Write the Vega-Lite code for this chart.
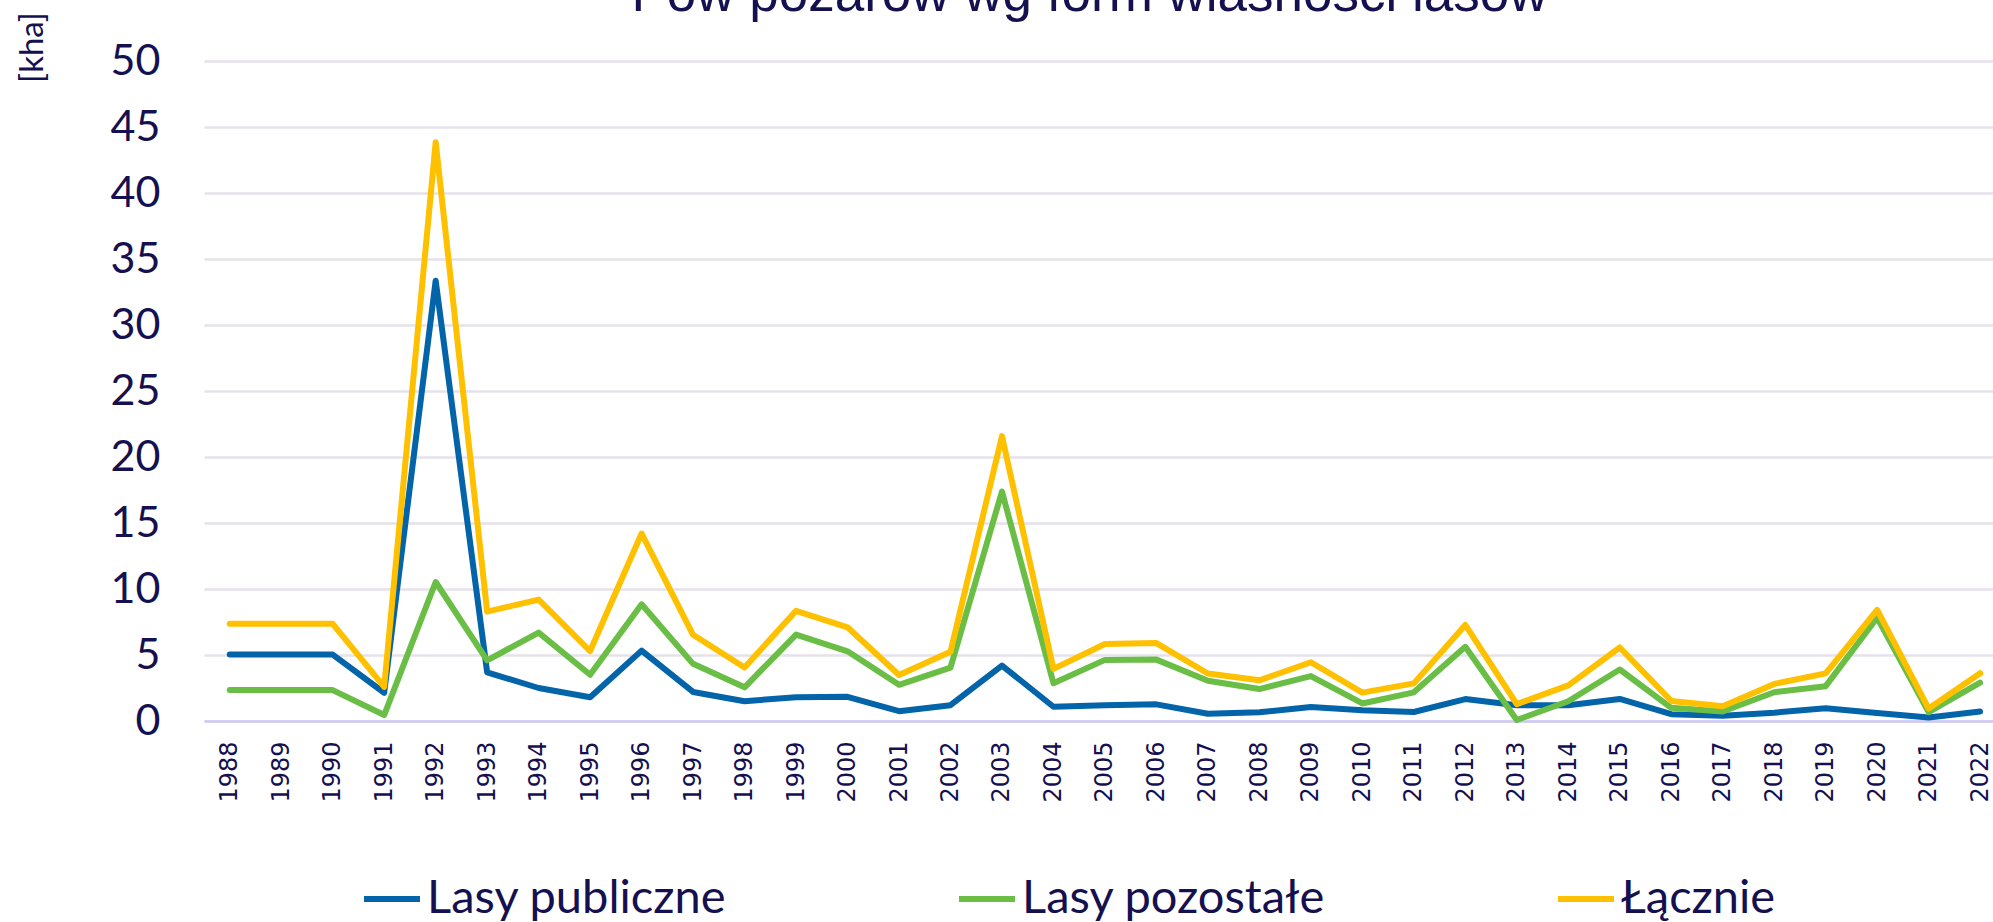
{
  "$schema": "https://vega.github.io/schema/vega-lite/v6.json",
  "autosize": {"type": "none"},
  "width": 1789,
  "height": 660,
  "padding": {"left": 204, "top": 61, "right": 0, "bottom": 201},
  "background": "white",
  "title": {
    "text": "Pow pożarów wg form własności lasów",
    "font": "Liberation Sans",
    "fontSize": 53,
    "fontWeight": "normal",
    "color": "#15104F",
    "anchor": "middle",
    "frame": "group",
    "baseline": "alphabetic",
    "offset": 5,
    "dx": -9,
    "dy": 57
  },
  "data": {
    "values": [
      {"rok": 1988, "Lasy publiczne": 5.03, "Lasy pozostałe": 2.34, "Łącznie": 7.36},
      {"rok": 1989, "Lasy publiczne": 5.03, "Lasy pozostałe": 2.34, "Łącznie": 7.36},
      {"rok": 1990, "Lasy publiczne": 5.03, "Lasy pozostałe": 2.34, "Łącznie": 7.36},
      {"rok": 1991, "Lasy publiczne": 2.14, "Lasy pozostałe": 0.45, "Łącznie": 2.59},
      {"rok": 1992, "Lasy publiczne": 33.36, "Lasy pozostałe": 10.53, "Łącznie": 43.85},
      {"rok": 1993, "Lasy publiczne": 3.69, "Lasy pozostałe": 4.6, "Łącznie": 8.29},
      {"rok": 1994, "Lasy publiczne": 2.5, "Lasy pozostałe": 6.7, "Łącznie": 9.2},
      {"rok": 1995, "Lasy publiczne": 1.8, "Lasy pozostałe": 3.5, "Łącznie": 5.3},
      {"rok": 1996, "Lasy publiczne": 5.33, "Lasy pozostałe": 8.84, "Łącznie": 14.2},
      {"rok": 1997, "Lasy publiczne": 2.2, "Lasy pozostałe": 4.33, "Łącznie": 6.53},
      {"rok": 1998, "Lasy publiczne": 1.5, "Lasy pozostałe": 2.55, "Łącznie": 4.05},
      {"rok": 1999, "Lasy publiczne": 1.8, "Lasy pozostałe": 6.55, "Łącznie": 8.35},
      {"rok": 2000, "Lasy publiczne": 1.83, "Lasy pozostałe": 5.28, "Łącznie": 7.1},
      {"rok": 2001, "Lasy publiczne": 0.74, "Lasy pozostałe": 2.74, "Łącznie": 3.48},
      {"rok": 2002, "Lasy publiczne": 1.2, "Lasy pozostałe": 4.05, "Łącznie": 5.25},
      {"rok": 2003, "Lasy publiczne": 4.2, "Lasy pozostałe": 17.38, "Łącznie": 21.58},
      {"rok": 2004, "Lasy publiczne": 1.08, "Lasy pozostałe": 2.86, "Łącznie": 3.95},
      {"rok": 2005, "Lasy publiczne": 1.2, "Lasy pozostałe": 4.63, "Łącznie": 5.83},
      {"rok": 2006, "Lasy publiczne": 1.26, "Lasy pozostałe": 4.65, "Łącznie": 5.9},
      {"rok": 2007, "Lasy publiczne": 0.55, "Lasy pozostałe": 3.05, "Łącznie": 3.6},
      {"rok": 2008, "Lasy publiczne": 0.66, "Lasy pozostałe": 2.42, "Łącznie": 3.08},
      {"rok": 2009, "Lasy publiczne": 1.06, "Lasy pozostałe": 3.4, "Łącznie": 4.45},
      {"rok": 2010, "Lasy publiczne": 0.82, "Lasy pozostałe": 1.33, "Łącznie": 2.15},
      {"rok": 2011, "Lasy publiczne": 0.68, "Lasy pozostałe": 2.17, "Łącznie": 2.85},
      {"rok": 2012, "Lasy publiczne": 1.66, "Lasy pozostałe": 5.62, "Łącznie": 7.28},
      {"rok": 2013, "Lasy publiczne": 1.2, "Lasy pozostałe": 0.08, "Łącznie": 1.28},
      {"rok": 2014, "Lasy publiczne": 1.2, "Lasy pozostałe": 1.5, "Łącznie": 2.7},
      {"rok": 2015, "Lasy publiczne": 1.67, "Lasy pozostałe": 3.9, "Łącznie": 5.57},
      {"rok": 2016, "Lasy publiczne": 0.52, "Lasy pozostałe": 1.0, "Łącznie": 1.52},
      {"rok": 2017, "Lasy publiczne": 0.4, "Lasy pozostałe": 0.72, "Łącznie": 1.12},
      {"rok": 2018, "Lasy publiczne": 0.63, "Lasy pozostałe": 2.18, "Łącznie": 2.81},
      {"rok": 2019, "Lasy publiczne": 0.97, "Lasy pozostałe": 2.64, "Łącznie": 3.61},
      {"rok": 2020, "Lasy publiczne": 0.6, "Lasy pozostałe": 7.82, "Łącznie": 8.42},
      {"rok": 2021, "Lasy publiczne": 0.26, "Lasy pozostałe": 0.68, "Łącznie": 0.94},
      {"rok": 2022, "Lasy publiczne": 0.72, "Lasy pozostałe": 2.9, "Łącznie": 3.62}
    ]
  },
  "transform": [
    {"fold": ["Lasy publiczne", "Lasy pozostałe", "Łącznie"], "as": ["seria", "wartosc"]}
  ],
  "mark": {"type": "line", "strokeWidth": 6, "strokeJoin": "round", "strokeCap": "round"},
  "encoding": {
    "x": {
      "field": "rok",
      "type": "quantitative",
      "scale": {"domain": [1987.5, 2022.25], "nice": false, "zero": false},
      "axis": {
        "title": null,
        "values": [1988,1989,1990,1991,1992,1993,1994,1995,1996,1997,1998,1999,2000,2001,2002,2003,2004,2005,2006,2007,2008,2009,2010,2011,2012,2013,2014,2015,2016,2017,2018,2019,2020,2021,2022],
        "format": "d",
        "labelAngle": -90,
        "labelFont": "DejaVu Sans",
        "labelFontSize": 24,
        "labelColor": "#15104F",
        "labelPadding": 20,
        "labelOverlap": false,
        "labelFlush": false,
        "ticks": false,
        "tickSize": 0,
        "grid": false,
        "domain": true,
        "domainColor": "#CFC8F6",
        "domainWidth": 2.5
      }
    },
    "y": {
      "field": "wartosc",
      "type": "quantitative",
      "scale": {"domain": [0, 50], "nice": false},
      "axis": {
        "title": "[kha]",
        "titleFont": "Lato",
        "titleFontSize": 33,
        "titleFontWeight": "normal",
        "titleColor": "#15104F",
        "titleAngle": -90,
        "titleX": -172,
        "titleY": -14,
        "titleAlign": "center",
        "titleBaseline": "middle",
        "values": [0,5,10,15,20,25,30,35,40,45,50],
        "labelFont": "Lato",
        "labelFontSize": 43,
        "labelColor": "#15104F",
        "labelPadding": 44,
        "ticks": false,
        "tickSize": 0,
        "domain": false,
        "grid": true,
        "gridColor": "#E4E2EA",
        "gridWidth": 2.5
      }
    },
    "color": {
      "field": "seria",
      "type": "nominal",
      "scale": {"domain": ["Lasy publiczne", "Lasy pozostałe", "Łącznie"], "range": ["#0464AA", "#6ABE46", "#FFC000"]},
      "legend": {
        "title": null,
        "orient": "none",
        "legendX": 157,
        "legendY": 807,
        "direction": "horizontal",
        "columns": 3,
        "columnPadding": 220,
        "padding": 0,
        "symbolType": "stroke",
        "symbolSize": 3136,
        "symbolStrokeWidth": 6,
        "labelFont": "Lato",
        "labelFontSize": 47,
        "labelColor": "#15104F",
        "labelOffset": 4,
        "labelLimit": 600
      }
    }
  },
  "config": {"view": {"stroke": null}}
}
